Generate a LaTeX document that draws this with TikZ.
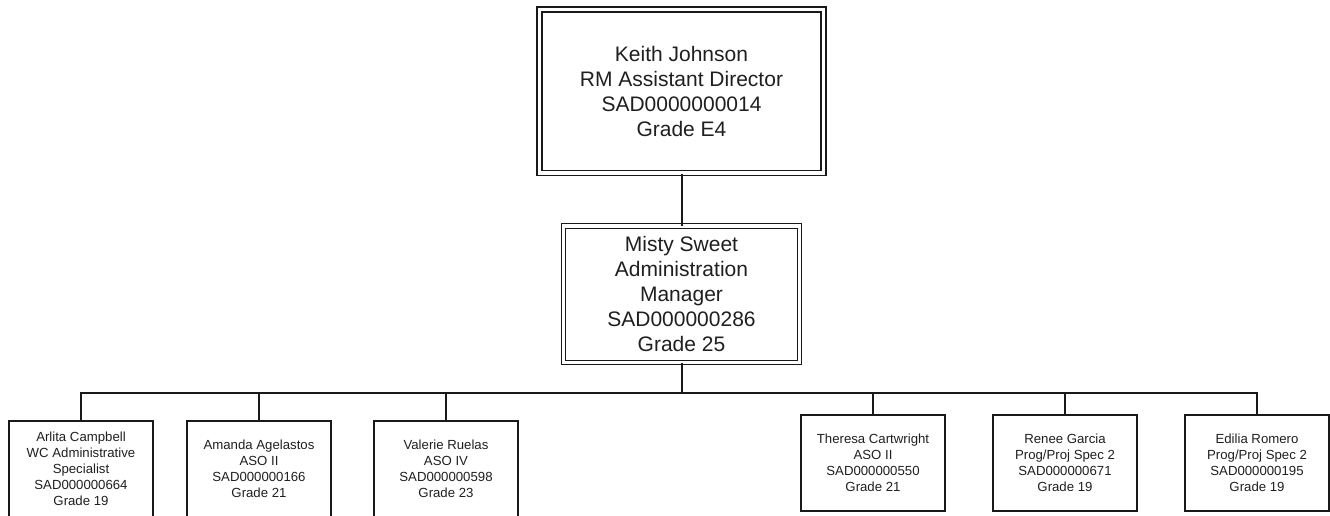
\documentclass[tikz,border=0pt]{standalone}
\usepackage{fontspec}
\setmainfont{Liberation Sans}
\begin{document}
\begin{tikzpicture}[x=1pt,y=-1pt,
  line join=miter,
  ink/.style={draw=black!90, text=black!88},
  headbox/.style={ink, rectangle, line width=1.7pt, double=white, double distance=3.3pt,
    align=center, inner sep=0pt, font=\fontsize{21}{25}\selectfont},
  midbox/.style={ink, rectangle, line width=1pt, double=white, double distance=3.5pt,
    align=center, inner sep=0pt, font=\fontsize{21}{25}\selectfont},
  staffbox/.style={ink, rectangle, line width=1.7pt, align=center, inner sep=0pt,
    minimum width=144pt, minimum height=96pt, font=\fontsize{13.2}{16}\selectfont},
  link/.style={draw=black!90, line width=2pt}]
\useasboundingbox (0,0) rectangle (1330,516);

% head of unit
\node[headbox, minimum width=284pt, minimum height=163.5pt] (head) at (681.5,91.25)
  {Keith Johnson\\RM Assistant Director\\SAD0000000014\\Grade E4};

% manager
\node[midbox, minimum width=236pt, minimum height=136.5pt] (mgr) at (681.5,294.25)
  {Misty Sweet\\Administration\\Manager\\SAD000000286\\Grade 25};

% staff
\node[staffbox] (s1) at (81,469) {Arlita Campbell\\WC Administrative\\Specialist\\SAD000000664\\Grade 19};
\node[staffbox] (s2) at (259,469) {Amanda Agelastos\\ASO II\\SAD000000166\\Grade 21};
\node[staffbox] (s3) at (446,469) {Valerie Ruelas\\ASO IV\\SAD000000598\\Grade 23};
\node[staffbox] (s4) at (873,463) {Theresa Cartwright\\ASO II\\SAD000000550\\Grade 21};
\node[staffbox] (s5) at (1065,463) {Renee Garcia\\Prog/Proj Spec 2\\SAD000000671\\Grade 19};
\node[staffbox] (s6) at (1257,463) {Edilia Romero\\Prog/Proj Spec 2\\SAD000000195\\Grade 19};

% reporting lines
\coordinate (bar) at (681.5,392.5);
\draw[link] (head.south) -- (mgr.north);
\draw[link] (mgr.south) -- (bar);
\foreach \s in {s1,s2,s3,s4,s5,s6}
  \draw[link] (bar) -| (\s.north);
\end{tikzpicture}
\end{document}
